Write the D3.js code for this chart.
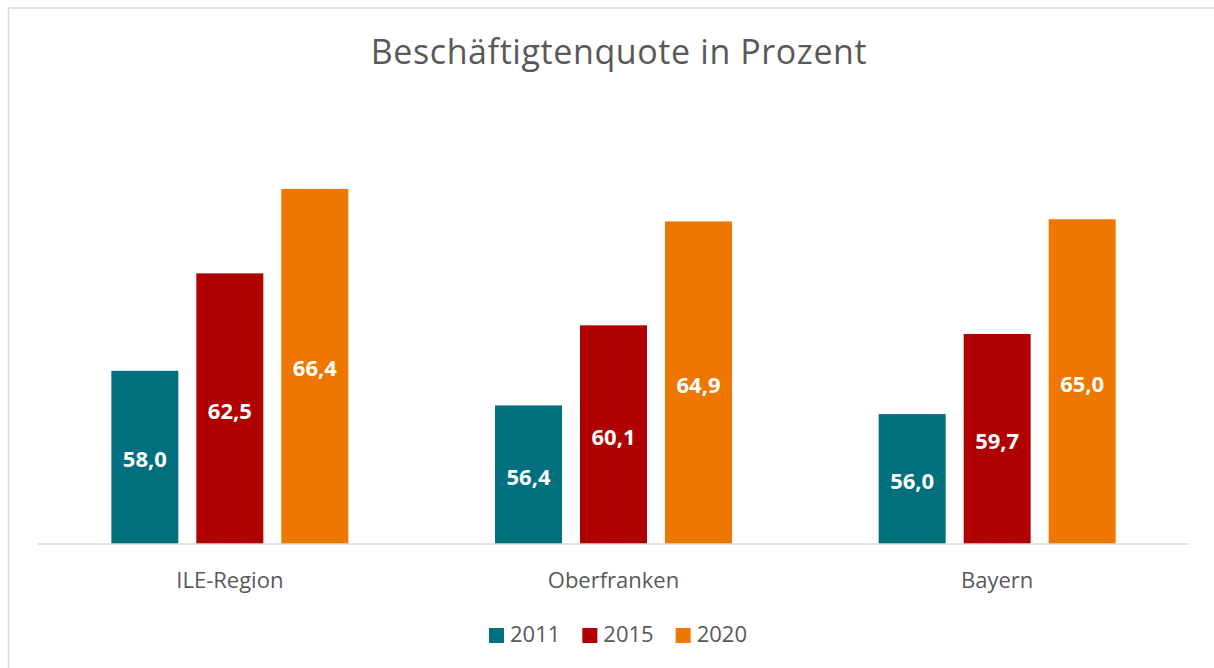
<!DOCTYPE html>
<html>
<head>
<meta charset="utf-8">
<script src="https://cdn.jsdelivr.net/npm/d3@7"></script>
<style>
  html, body { margin: 0; padding: 0; background: #fff; }
  svg { display: block; font-family: "Segoe UI", "Open Sans", sans-serif; }
</style>
</head>
<body>
<div id="container"></div>
<script>
const w = 1214;
const h = 668;
const p = {top: 111, right: 25, bottom: 124, left: 38};

const categories = ['ILE-Region', 'Oberfranken', 'Bayern'];
const years = ['2011', '2015', '2020'];
const values2011 = [58.0, 56.4, 56.0];
const values2015 = [62.5, 60.1, 59.7];
const values2020 = [66.4, 64.9, 65.0];
const colors = ['#00707F', '#B10000', '#EE7700'];

const series = [values2011, values2015, values2020];
const data = categories.map((c, i) => ({
  category: c,
  bars: years.map((yr, j) => ({year: yr, value: series[j][i]}))
}));

const fmt = d3.formatLocale({decimal: ',', thousands: '.', grouping: [3], currency: ['', ' €']}).format('.1f');

const svg = d3.select('#container')
  .append('svg')
  .attr('width', w)
  .attr('height', h)
  .attr('viewBox', [0, 0, w, h]);

// chart frame
svg.append('rect')
  .attr('x', 8.5)
  .attr('y', 8)
  .attr('width', 1240)
  .attr('height', 700)
  .attr('fill', '#fff')
  .attr('stroke', '#d9d9d9')
  .attr('stroke-width', 1.5);

svg.append('text')
  .attr('x', 619)
  .attr('y', 64)
  .attr('text-anchor', 'middle')
  .attr('fill', '#595959')
  .style('font-size', '34px')
  .style('letter-spacing', '0.6px')
  .text('Beschäftigtenquote in Prozent');

const x0 = d3.scaleBand()
  .domain(categories)
  .range([p.left, w - p.right]);

const x1 = d3.scaleBand()
  .domain(years)
  .range([0, x0.bandwidth()])
  .paddingInner(0.212)
  .paddingOuter(0.863);

const y = d3.scaleLinear()
  .domain([50, 70])
  .range([h - p.bottom, p.top]);

const color = d3.scaleOrdinal().domain(years).range(colors);

const groups = svg.selectAll('g.group')
  .data(data)
  .enter()
  .append('g')
  .attr('class', 'group')
  .attr('transform', d => 'translate(' + x0(d.category) + ',0)');

groups.selectAll('rect')
  .data(d => d.bars)
  .enter()
  .append('rect')
  .attr('x', d => x1(d.year))
  .attr('y', d => y(d.value))
  .attr('width', x1.bandwidth())
  .attr('height', d => y(50) - y(d.value))
  .attr('fill', d => color(d.year));

groups.selectAll('text.label')
  .data(d => d.bars)
  .enter()
  .append('text')
  .attr('class', 'label')
  .attr('x', d => x1(d.year) + x1.bandwidth() / 2)
  .attr('y', d => (y(d.value) + y(50)) / 2 + 10)
  .attr('text-anchor', 'middle')
  .attr('fill', '#fff')
  .style('font-size', '22px')
  .style('font-weight', 'bold')
  .text(d => fmt(d.value));

// x axis
const xAxis = d3.axisBottom(x0).tickSize(0).tickPadding(0);
svg.append('g')
  .attr('transform', 'translate(0,' + y(50) + ')')
  .call(xAxis)
  .call(g => g.select('.domain')
    .attr('stroke', '#d9d9d9')
    .attr('stroke-width', 1.5)
    .attr('d', 'M' + p.left + ',0H' + (w - p.right)))
  .call(g => g.selectAll('.tick text')
    .attr('y', 44)
    .attr('dy', null)
    .attr('fill', '#595959')
    .style('font-size', '22px')
    .style('font-family', '"Segoe UI", "Open Sans", sans-serif'));

// legend
const legend = svg.append('g');
const items = legend.selectAll('g')
  .data(years)
  .enter()
  .append('g');
items.append('rect')
  .attr('width', 15)
  .attr('height', 15)
  .attr('y', -14)
  .attr('fill', d => color(d));
items.append('text')
  .attr('x', 21)
  .attr('fill', '#595959')
  .style('font-size', '22px')
  .text(d => d);

let offset = 0;
items.each(function() {
  const g = d3.select(this);
  const tw = g.select('text').node().getComputedTextLength();
  g.attr('transform', 'translate(' + offset + ',0)');
  offset += 21 + tw + 22;
});
const legendWidth = offset - 22;
legend.attr('transform', 'translate(' + (618 - legendWidth / 2) + ',642)');
</script>
</body>
</html>
